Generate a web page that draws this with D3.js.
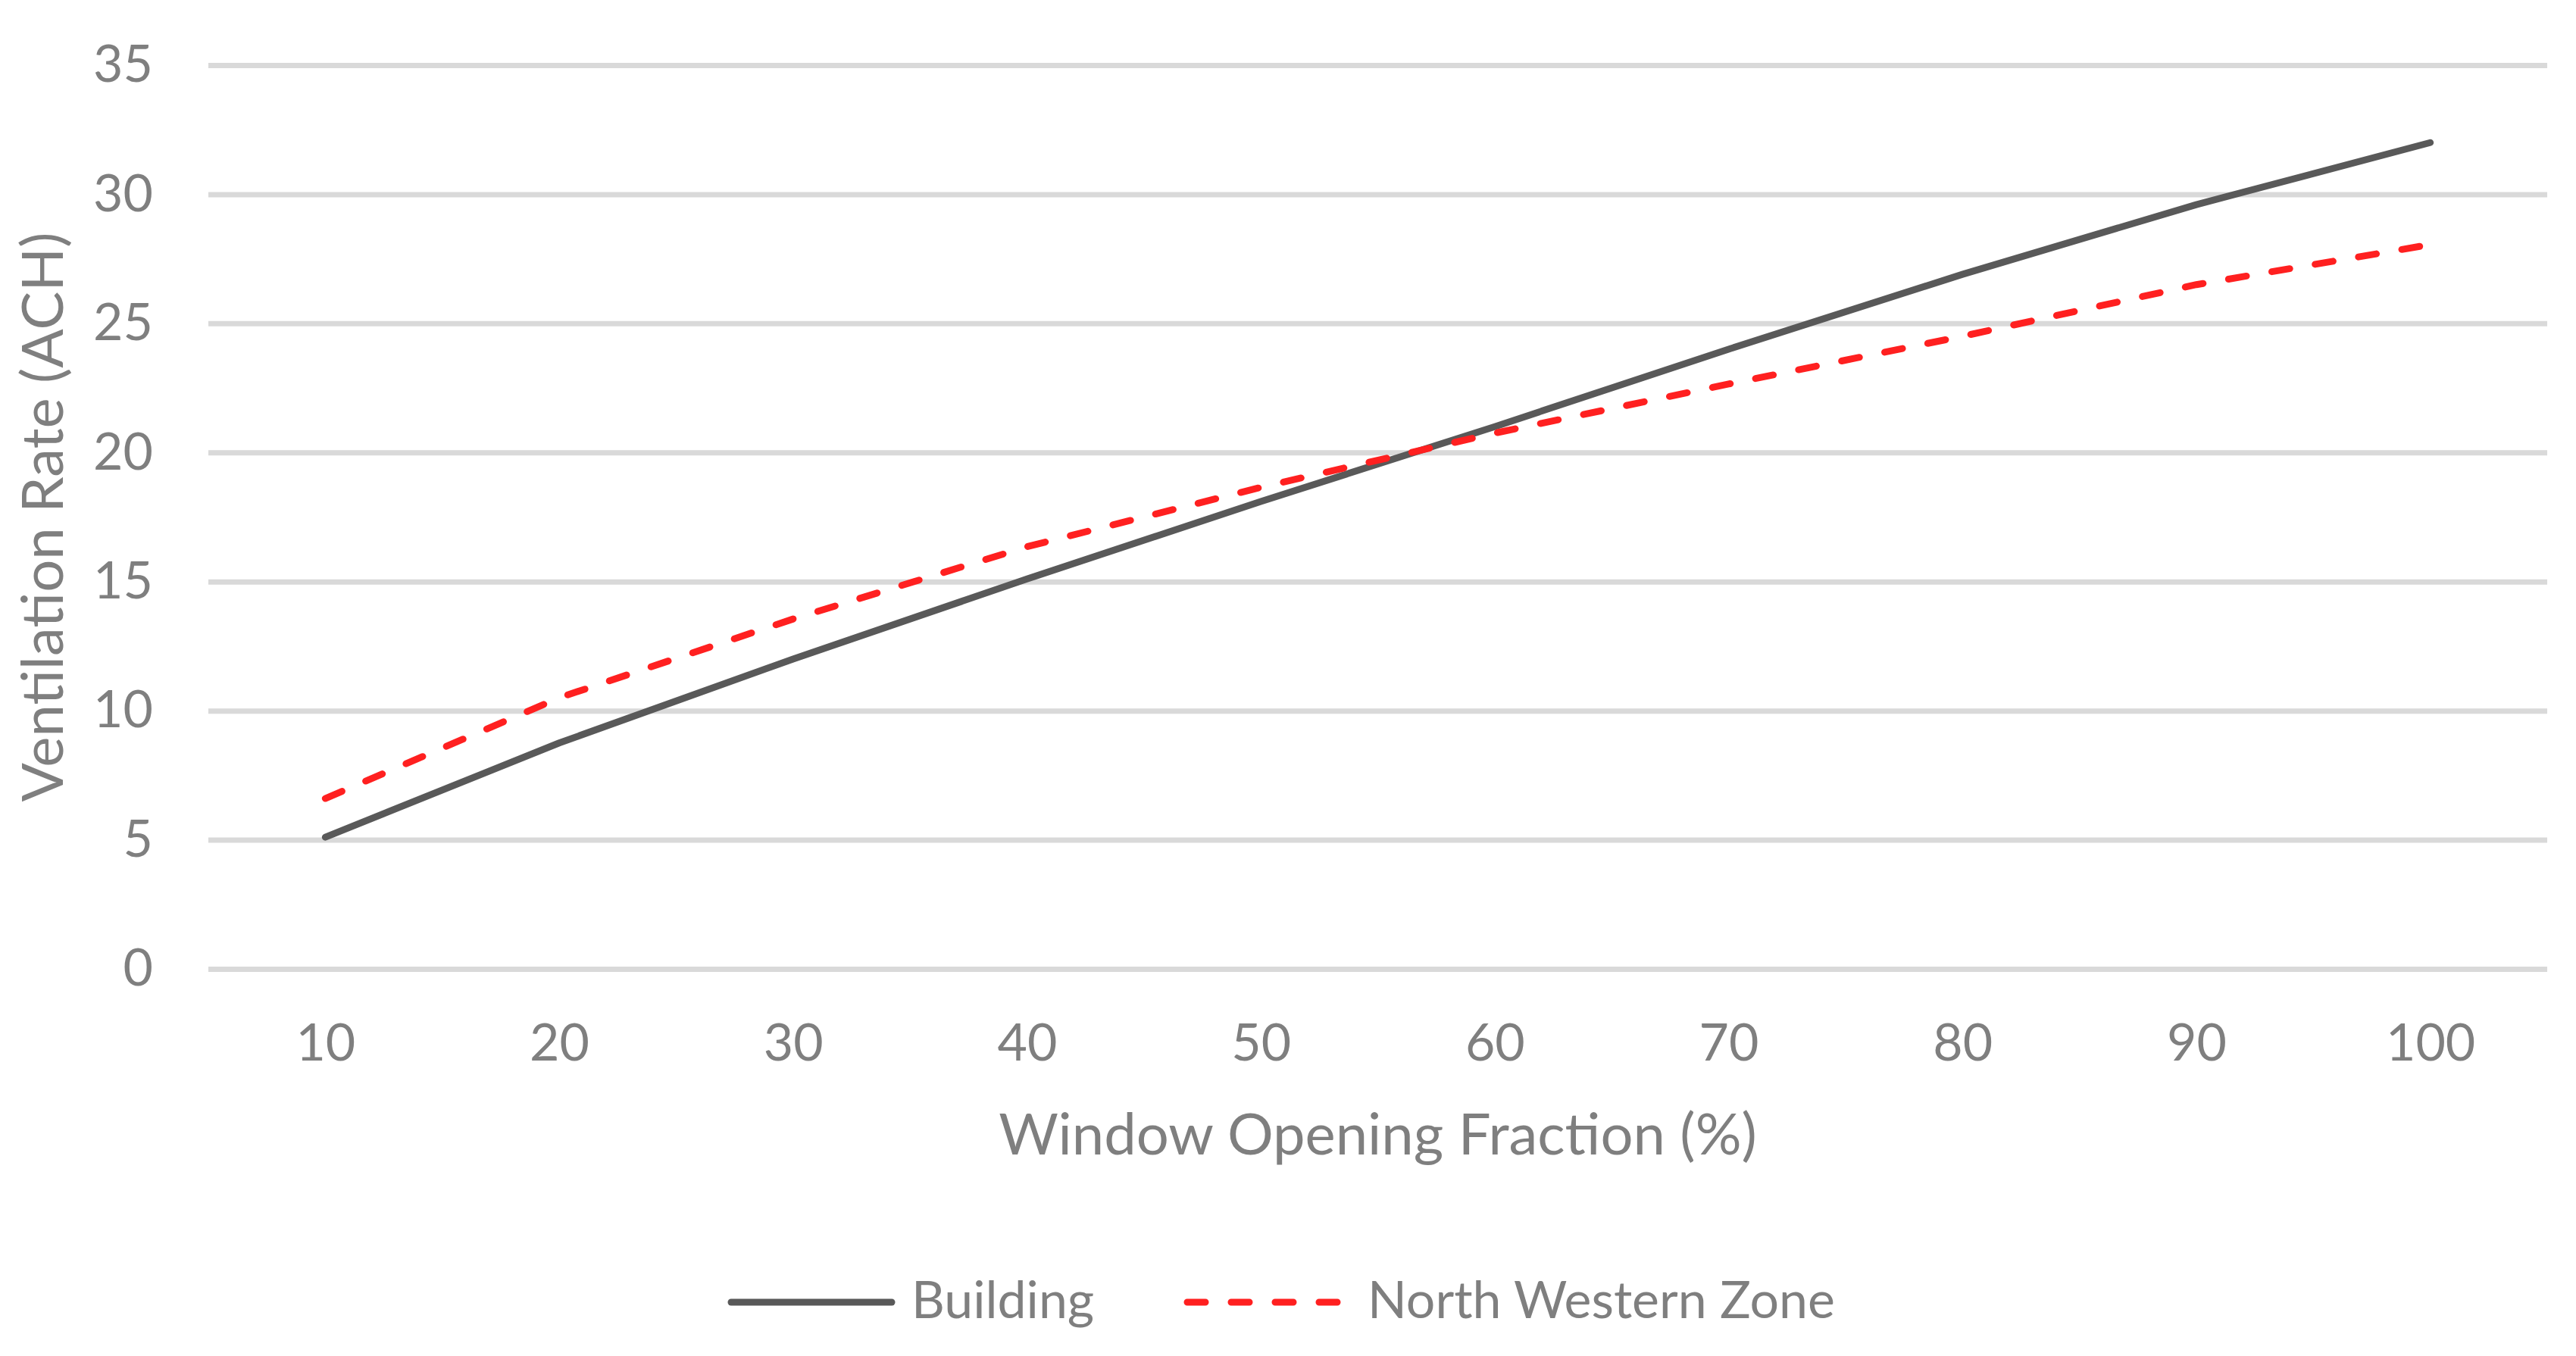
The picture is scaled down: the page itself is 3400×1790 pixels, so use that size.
<!DOCTYPE html>
<html>
<head>
<meta charset="utf-8">
<script src="https://cdn.jsdelivr.net/npm/d3@7"></script>
<style>
  html, body { margin: 0; padding: 0; background: #ffffff; }
  svg { display: block; }
</style>
</head>
<body>
<svg id="chart" width="3400" height="1790"></svg>
<script>
// ---- data ----
const categories = [10, 20, 30, 40, 50, 60, 70, 80, 90, 100];
const building = [5.1, 8.75, 12.0, 15.1, 18.1, 21.0, 24.0, 26.9, 29.6, 32.0];
const northWesternZone = [6.6, 10.5, 13.55, 16.35, 18.65, 20.75, 22.65, 24.5, 26.5, 28.05];
const yTicks = [0, 5, 10, 15, 20, 25, 30, 35];
const seriesNames = ["Building", "North Western Zone"];
const xTitle = "Window Opening Fraction (%)";
const yTitle = "Ventilation Rate (ACH)";

// ---- layout ----
const W = 3400, H = 1790;
const plot = { left: 275, right: 3362, top: 86, bottom: 1279 };
const FONT = "Lato, 'Open Sans', sans-serif";
const textColor = "#7f7f7f";
const gridColor = "#d9d9d9";
const colBuilding = "#595959";
const colZone = "#ff2020";

const svg = d3.select("#chart");

const x = d3.scalePoint().domain(categories).range([plot.left, plot.right]).padding(0.5);
const y = d3.scaleLinear().domain([0, 35]).range([plot.bottom, plot.top]);

// gridlines
svg.append("g")
  .attr("transform", `translate(${plot.left},0)`)
  .call(d3.axisLeft(y).tickValues(yTicks).tickSize(-(plot.right - plot.left)).tickFormat(""))
  .call(g => g.select(".domain").remove())
  .call(g => g.selectAll(".tick line").attr("stroke", gridColor).attr("stroke-width", 7));

// y axis labels
svg.append("g")
  .attr("transform", `translate(${plot.left},0)`)
  .call(d3.axisLeft(y).tickValues(yTicks).tickSize(0).tickPadding(73))
  .call(g => g.select(".domain").remove())
  .call(g => g.selectAll(".tick text")
    .attr("fill", textColor).attr("font-family", FONT).attr("font-size", 68));

// x axis labels
svg.append("g")
  .attr("transform", `translate(0,${plot.bottom})`)
  .call(d3.axisBottom(x).tickSize(0).tickPadding(73))
  .call(g => g.select(".domain").remove())
  .call(g => g.selectAll(".tick text")
    .attr("fill", textColor).attr("font-family", FONT).attr("font-size", 68));

// lines
const line = d3.line().x((d, i) => x(categories[i])).y(d => y(d));

svg.append("path")
  .datum(building)
  .attr("d", line)
  .attr("fill", "none")
  .attr("stroke", colBuilding)
  .attr("stroke-width", 9)
  .attr("stroke-linecap", "round")
  .attr("stroke-linejoin", "round");

svg.append("path")
  .datum(northWesternZone)
  .attr("d", line)
  .attr("fill", "none")
  .attr("stroke", colZone)
  .attr("stroke-width", 9)
  .attr("stroke-dasharray", "24,34")
  .attr("stroke-linecap", "round")
  .attr("stroke-linejoin", "round");

// axis titles
svg.append("text")
  .attr("x", (plot.left + plot.right) / 2)
  .attr("y", 1524)
  .attr("text-anchor", "middle")
  .attr("fill", textColor).attr("font-family", FONT).attr("font-size", 76)
  .text(xTitle);

svg.append("text")
  .attr("transform", `translate(83,${(plot.top + plot.bottom) / 2}) rotate(-90)`)
  .attr("text-anchor", "middle")
  .attr("fill", textColor).attr("font-family", FONT).attr("font-size", 76)
  .text(yTitle);

// legend
const legendY = 1719;
const legendItems = [
  { name: seriesNames[0], color: colBuilding, dash: null, x0: 965, x1: 1177, tx: 1203 },
  { name: seriesNames[1], color: colZone, dash: "24,34", x0: 1567, x1: 1766, tx: 1805 }
];
const lg = svg.append("g");
legendItems.forEach(it => {
  lg.append("line")
    .attr("x1", it.x0).attr("x2", it.x1)
    .attr("y1", legendY).attr("y2", legendY)
    .attr("stroke", it.color).attr("stroke-width", 9)
    .attr("stroke-linecap", "round")
    .attr("stroke-dasharray", it.dash);
  lg.append("text")
    .attr("x", it.tx).attr("y", 1740)
    .attr("fill", textColor).attr("font-family", FONT).attr("font-size", 68)
    .text(it.name);
});
</script>
</body>
</html>
